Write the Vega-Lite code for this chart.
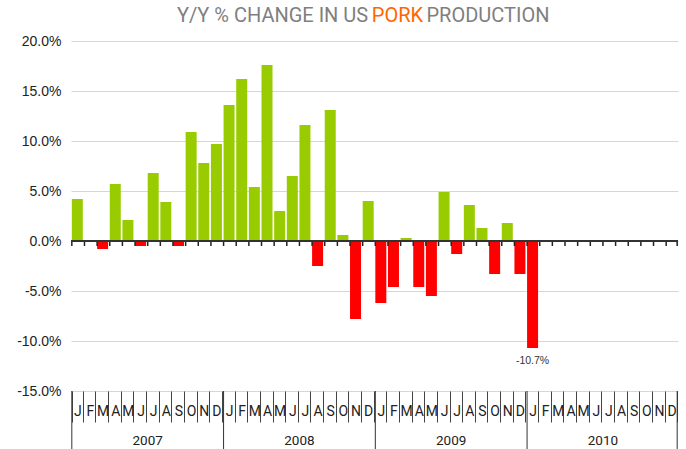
{
  "$schema": "https://vega.github.io/schema/vega-lite/v6.json",
  "width": 607,
  "height": 350,
  "autosize": {"type": "none"},
  "padding": {"left": 71, "top": 41, "right": 8, "bottom": 58},
  "background": "white",
  "config": {"view": {"stroke": null}},
  "datasets": {
    "months": [
      {"month": "2007-01", "value": 4.2}, {"month": "2007-02", "value": 0.0}, {"month": "2007-03", "value": -0.8},
      {"month": "2007-04", "value": 5.7}, {"month": "2007-05", "value": 2.1}, {"month": "2007-06", "value": -0.5},
      {"month": "2007-07", "value": 6.8}, {"month": "2007-08", "value": 3.9}, {"month": "2007-09", "value": -0.5},
      {"month": "2007-10", "value": 10.9}, {"month": "2007-11", "value": 7.8}, {"month": "2007-12", "value": 9.7},
      {"month": "2008-01", "value": 13.6}, {"month": "2008-02", "value": 16.2}, {"month": "2008-03", "value": 5.4},
      {"month": "2008-04", "value": 17.6}, {"month": "2008-05", "value": 3.0}, {"month": "2008-06", "value": 6.5},
      {"month": "2008-07", "value": 11.6}, {"month": "2008-08", "value": -2.5}, {"month": "2008-09", "value": 13.1},
      {"month": "2008-10", "value": 0.6}, {"month": "2008-11", "value": -7.8}, {"month": "2008-12", "value": 4.0},
      {"month": "2009-01", "value": -6.2}, {"month": "2009-02", "value": -4.6}, {"month": "2009-03", "value": 0.3},
      {"month": "2009-04", "value": -4.6}, {"month": "2009-05", "value": -5.5}, {"month": "2009-06", "value": 4.9},
      {"month": "2009-07", "value": -1.3}, {"month": "2009-08", "value": 3.6}, {"month": "2009-09", "value": 1.3},
      {"month": "2009-10", "value": -3.3}, {"month": "2009-11", "value": 1.8}, {"month": "2009-12", "value": -3.3},
      {"month": "2010-01", "value": -10.7}, {"month": "2010-02", "value": null}, {"month": "2010-03", "value": null},
      {"month": "2010-04", "value": null}, {"month": "2010-05", "value": null}, {"month": "2010-06", "value": null},
      {"month": "2010-07", "value": null}, {"month": "2010-08", "value": null}, {"month": "2010-09", "value": null},
      {"month": "2010-10", "value": null}, {"month": "2010-11", "value": null}, {"month": "2010-12", "value": null}
    ],
    "years": [
      {"start": "2007-01", "mid": "2007-07", "year": "2007"},
      {"start": "2008-01", "mid": "2008-07", "year": "2008"},
      {"start": "2009-01", "mid": "2009-07", "year": "2009"},
      {"start": "2010-01", "mid": "2010-07", "year": "2010"}
    ]
  },
  "encoding": {
    "x": {
      "field": "month", "type": "nominal",
      "scale": {"type": "band", "paddingInner": 0.13, "paddingOuter": 0.065},
      "axis": {
        "title": null, "orient": "bottom", "domain": false, "grid": false,
        "tickBand": "extent", "tickSize": 31, "tickColor": "#444444", "tickWidth": 1,
        "labelExpr": "isString(datum.value) ? ['J','F','M','A','M','J','J','A','S','O','N','D'][toNumber(substring(datum.value, 5, 7)) - 1] : ''",
        "labelFont": "Roboto", "labelFontSize": 14, "labelColor": "#222222",
        "labelBaseline": "alphabetic", "labelPadding": -6.5, "labelAngle": 0, "labelOverlap": false,
        "labelFlush": false, "labelBound": false
      }
    }
  },
  "layer": [
    {
      "data": {"name": "months"},
      "mark": {"type": "bar"},
      "encoding": {
        "y": {
          "field": "value", "type": "quantitative",
          "scale": {"domain": [-15, 20], "nice": false, "zero": false},
          "axis": {
            "title": null, "values": [-15, -10, -5, 0, 5, 10, 15, 20],
            "domain": false, "ticks": false, "grid": true, "gridColor": "#d6d6d6", "gridWidth": 1,
            "labelExpr": "(datum.value < 0 ? '-' : '') + format(abs(datum.value), '.1f') + '%'",
            "labelFont": "Liberation Sans", "labelFontSize": 14, "labelColor": "#222222",
            "labelPadding": 10, "labelBaseline": "middle"
          }
        },
        "color": {"condition": {"test": "datum.value < 0", "value": "#ff0000"}, "value": "#99cc00"}
      }
    },
    {
      "data": {"name": "months"},
      "mark": {"type": "rule", "color": "#222222", "strokeWidth": 1.5},
      "encoding": {
        "x": {"field": "month", "type": "nominal", "bandPosition": 0},
        "y": {"datum": 0},
        "y2": {"datum": -0.5}
      }
    },
    {
      "data": {"values": [{"end": "2010-12"}]},
      "mark": {"type": "rule", "color": "#222222", "strokeWidth": 1.5},
      "encoding": {
        "x": {"field": "end", "type": "nominal", "bandPosition": 1},
        "y": {"datum": 0},
        "y2": {"datum": -0.5}
      }
    },
    {
      "data": {"values": [{"z": 0}]},
      "mark": {"type": "rule", "color": "#333333", "strokeWidth": 2},
      "encoding": {"x": null, "y": {"field": "z", "type": "quantitative"}}
    },
    {
      "data": {"name": "years"},
      "mark": {"type": "rule", "color": "#333333", "strokeWidth": 1},
      "encoding": {
        "x": {"field": "start", "type": "nominal", "bandPosition": 0},
        "y": {"datum": -15},
        "y2": {"datum": -20.8}
      }
    },
    {
      "data": {"values": [{"end": "2010-12"}]},
      "mark": {"type": "rule", "color": "#333333", "strokeWidth": 1},
      "encoding": {
        "x": {"field": "end", "type": "nominal", "bandPosition": 1},
        "y": {"datum": -15},
        "y2": {"datum": -20.8}
      }
    },
    {
      "data": {"name": "years"},
      "mark": {"type": "text", "align": "center", "baseline": "alphabetic", "font": "Roboto", "fontSize": 13.5, "color": "#222222"},
      "encoding": {
        "x": {"field": "mid", "type": "nominal", "bandPosition": 0},
        "y": {"datum": -20.4},
        "text": {"field": "year"}
      }
    },
    {
      "data": {"values": [{"month": "2010-01", "value": -10.7, "label": "-10.7%"}]},
      "mark": {"type": "text", "baseline": "alphabetic", "align": "center", "dy": 16, "font": "Liberation Sans", "fontSize": 10.5, "color": "#333333"},
      "encoding": {
        "y": {"field": "value", "type": "quantitative"},
        "text": {"field": "label"}
      }
    },
    {
      "data": {"values": [{"month": "2008-12", "t": "Y/Y % CHANGE IN US"}]},
      "mark": {"type": "text", "align": "right", "baseline": "alphabetic", "font": "Roboto", "fontSize": 20, "color": "#7f7f7f"},
      "encoding": {"y": {"datum": 21.9}, "text": {"field": "t"}}
    },
    {
      "data": {"values": [{"month": "2008-12", "t": "PORK"}]},
      "mark": {"type": "text", "align": "center", "baseline": "alphabetic", "dx": 29.3, "font": "Roboto", "fontSize": 20, "color": "#ff6600"},
      "encoding": {"y": {"datum": 21.9}, "text": {"field": "t"}}
    },
    {
      "data": {"values": [{"month": "2008-12", "t": "PRODUCTION"}]},
      "mark": {"type": "text", "align": "left", "baseline": "alphabetic", "dx": 58.3, "font": "Roboto", "fontSize": 20, "color": "#7f7f7f"},
      "encoding": {"y": {"datum": 21.9}, "text": {"field": "t"}}
    }
  ]
}
